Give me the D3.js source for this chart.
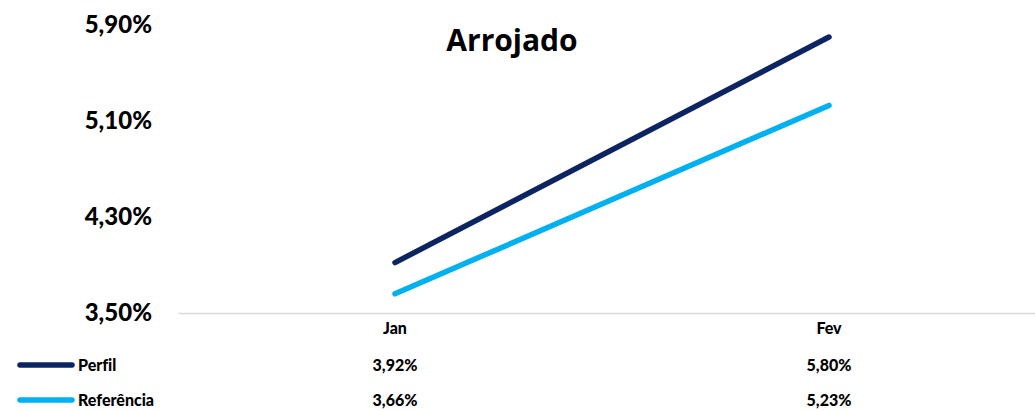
<!DOCTYPE html>
<html>
<head>
<meta charset="utf-8">
<script src="https://cdn.jsdelivr.net/npm/d3@7"></script>
<style>
  body { margin: 0; background: #fff; }
  text { font-family: Lato, "Open Sans", sans-serif; font-weight: 900; fill: #000; font-variant-ligatures: none; }
</style>
</head>
<body>
<svg id="drawing_region"></svg>
<script>
var Months = ['Jan', 'Fev'];
var Perfil = [3.92, 5.80];
var Referencia = [3.66, 5.23];
var SeriesNames = ['Perfil', 'Referência'];
var YTicks = [3.5, 4.3, 5.1, 5.9];

var fmt = v => v.toFixed(2).replace('.', ',') + '%';

var svg = d3.select('#drawing_region')
    .attr('width', 1035)
    .attr('height', 411);

var xscale = d3.scaleBand()
    .domain(Months)
    .range([178, 1046]);

var yscale = d3.scaleLinear()
    .domain([3.5, 5.9])
    .range([313, 25]);

// title
svg.append('text')
    .attr('x', 512)
    .attr('y', 51)
    .attr('text-anchor', 'middle')
    .style('font-family', '"Open Sans", sans-serif')
    .style('font-weight', 'bold')
    .style('font-size', '30px')
    .text('Arrojado');

// y axis labels
var yaxis = d3.axisLeft(yscale)
    .tickValues(YTicks)
    .tickFormat(fmt)
    .tickSize(0)
    .tickPadding(0);

var yg = svg.append('g')
    .attr('transform', 'translate(152,0)')
    .call(yaxis);
yg.select('.domain').remove();
yg.selectAll('text')
    .style('font-size', '24px')
    .attr('fill', '#000');

// baseline
var xaxis = d3.axisBottom(xscale).tickSize(0).tickPadding(10);
var xg = svg.append('g')
    .attr('transform', 'translate(0,313)')
    .call(xaxis);
xg.select('.domain').attr('stroke', '#d9d9d9').attr('stroke-width', 1.5);
xg.selectAll('text')
    .style('font-size', '16px')
    .attr('fill', '#000');

var series = [
    { name: SeriesNames[0], values: Perfil, color: '#0c2461' },
    { name: SeriesNames[1], values: Referencia, color: '#00b0f0' }
];

var line = d3.line()
    .x((d, i) => xscale(Months[i]) + xscale.bandwidth() / 2)
    .y(d => yscale(d));

svg.selectAll('path.series')
    .data(series)
    .join('path')
    .attr('class', 'series')
    .attr('d', d => line(d.values))
    .attr('fill', 'none')
    .attr('stroke', d => d.color)
    .attr('stroke-width', 5.5)
    .attr('stroke-linecap', 'round');

// data table
var rowY = [365, 400];
series.forEach((s, r) => {
    svg.append('line')
        .attr('x1', 20).attr('x2', 72)
        .attr('y1', rowY[r]).attr('y2', rowY[r])
        .attr('stroke', s.color)
        .attr('stroke-width', 5.5)
        .attr('stroke-linecap', 'round');
    svg.append('text')
        .attr('x', 78)
        .attr('y', rowY[r] + 6)
        .style('font-size', '16px')
        .text(s.name);
    svg.selectAll(null)
        .data(s.values)
        .join('text')
        .attr('x', (d, i) => xscale(Months[i]) + xscale.bandwidth() / 2)
        .attr('y', rowY[r] + 6)
        .attr('text-anchor', 'middle')
        .style('font-size', '16px')
        .text(d => fmt(d));
});
</script>
</body>
</html>
